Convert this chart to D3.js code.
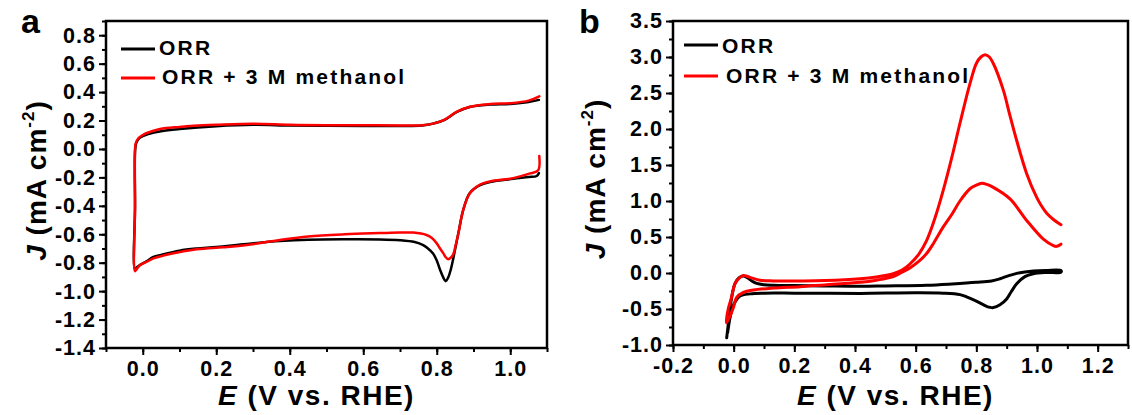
<!DOCTYPE html>
<html lang="en">
<head>
<meta charset="UTF-8">
<title>ORR CV with and without methanol</title>
<style>
  body { margin: 0; background: #fff; }
  svg { display: block; font-family: "Liberation Sans", Arial, sans-serif; }
  .tick text { font-weight: bold; font-size: 21.5px; letter-spacing: 1px; fill: #000; }
  .tick line { stroke: #000; stroke-width: 2px; }
</style>
</head>
<body>
<svg id="chart" width="1132" height="415"></svg>
<script src="https://d3js.org/d3.v7.min.js"></script>
<script>
// ---- panel a : CV, ORR vs ORR + 3 M methanol (E in V vs RHE, J in mA cm-2)
const aOrrE = [1.078, 1.072, 1.05, 1.008, 0.945, 0.918, 0.89, 0.872, 0.859, 0.852, 0.845, 0.838, 0.831, 0.824, 0.817, 0.809, 0.80, 0.79, 0.776, 0.763, 0.74, 0.70, 0.646, 0.55, 0.45, 0.373, 0.283, 0.2, 0.147, 0.1, 0.05, 0.029, 0.01, -0.007, -0.015, -0.021,
  -0.021, -0.021, -0.018, -0.01, 0.0, 0.015, 0.05, 0.1, 0.2, 0.3, 0.4, 0.5, 0.6, 0.7, 0.76, 0.79, 0.82, 0.855, 0.89, 0.945, 1.0, 1.05, 1.078];
const aOrrJ = [-0.17, -0.19, -0.198, -0.21, -0.232, -0.255, -0.31, -0.43, -0.59, -0.68, -0.77, -0.85, -0.905, -0.93, -0.90, -0.85, -0.785, -0.735, -0.70, -0.676, -0.655, -0.642, -0.636, -0.635, -0.638, -0.648, -0.668, -0.69, -0.70, -0.715, -0.745, -0.76, -0.79, -0.815, -0.83, -0.845,
  -0.40, -0.02, 0.04, 0.075, 0.09, 0.105, 0.125, 0.14, 0.16, 0.17, 0.165, 0.163, 0.162, 0.162, 0.165, 0.178, 0.202, 0.26, 0.295, 0.312, 0.317, 0.33, 0.345];

const aMethE = [1.079, 1.076, 1.054, 1.008, 0.945, 0.918, 0.89, 0.872, 0.859, 0.852, 0.845, 0.838, 0.831, 0.824, 0.818, 0.809, 0.80, 0.786, 0.772, 0.736, 0.70, 0.646, 0.55, 0.45, 0.373, 0.283, 0.219, 0.147, 0.074, 0.029, 0.01, -0.007, -0.015, -0.021,
  -0.021, -0.021, -0.019, -0.012, 0.0, 0.011, 0.047, 0.1, 0.14, 0.2, 0.3, 0.4, 0.5, 0.6, 0.7, 0.76, 0.79, 0.82, 0.855, 0.89, 0.945, 1.0, 1.05, 1.079];
const aMethJ = [-0.05, -0.15, -0.172, -0.205, -0.228, -0.25, -0.312, -0.429, -0.593, -0.67, -0.74, -0.765, -0.775, -0.76, -0.734, -0.70, -0.664, -0.625, -0.605, -0.588, -0.588, -0.592, -0.60, -0.615, -0.64, -0.676, -0.692, -0.706, -0.739, -0.77, -0.795, -0.816, -0.84, -0.86,
  -0.40, 0.0, 0.04, 0.075, 0.098, 0.112, 0.14, 0.155, 0.163, 0.17, 0.178, 0.17, 0.167, 0.167, 0.165, 0.167, 0.178, 0.204, 0.262, 0.297, 0.316, 0.322, 0.34, 0.37];

// ---- panel b
const bOrrE = [-0.023, -0.018, -0.012, -0.005, 0.005, 0.018, 0.032, 0.045, 0.06, 0.076, 0.1, 0.13, 0.2, 0.3, 0.417, 0.5, 0.636, 0.72, 0.8, 0.85, 0.878, 0.905, 0.933, 0.96, 0.988, 1.03, 1.079,
  1.079, 1.03, 0.988, 0.96, 0.933, 0.915, 0.90, 0.878, 0.856, 0.845, 0.834, 0.80, 0.77, 0.746, 0.691, 0.6, 0.417, 0.3, 0.2, 0.1, 0.054, 0.021, 0.005, -0.005, -0.012, -0.02];
const bOrrJ = [-0.90, -0.72, -0.50, -0.30, -0.14, -0.065, -0.04, -0.065, -0.11, -0.145, -0.163, -0.17, -0.175, -0.18, -0.185, -0.18, -0.17, -0.152, -0.13, -0.11, -0.08, -0.04, -0.005, 0.015, 0.028, 0.035, 0.035,
  0.012, 0.008, -0.01, -0.05, -0.15, -0.26, -0.36, -0.44, -0.48, -0.477, -0.462, -0.39, -0.335, -0.30, -0.28, -0.275, -0.283, -0.28, -0.28, -0.28, -0.29, -0.32, -0.40, -0.50, -0.62, -0.83];

// methanol in b: forward scan read from its right end back to the start, then the reverse scan up to its end
const bMethE = [1.079, 1.055, 1.032, 1.015, 0.999, 0.966, 0.933, 0.91, 0.889, 0.856, 0.843, 0.829, 0.815, 0.80, 0.779, 0.746, 0.72, 0.691, 0.665, 0.636, 0.61, 0.581, 0.555, 0.526, 0.47, 0.417, 0.3, 0.219, 0.13, 0.087, 0.054, 0.032, 0.021, 0.004, -0.007, -0.018, -0.024,
  -0.022, -0.012, -0.001, 0.01, 0.032, 0.065, 0.131, 0.219, 0.3, 0.417, 0.47, 0.526, 0.55, 0.581, 0.61, 0.636, 0.66, 0.691, 0.72, 0.746, 0.779, 0.80, 0.818, 0.835, 0.856, 0.911, 0.966, 1.021, 1.054, 1.065, 1.079];
const bMethJ = [0.67, 0.74, 0.83, 0.93, 1.05, 1.38, 1.84, 2.2, 2.54, 2.91, 3.0, 3.03, 3.0, 2.91, 2.63, 2.08, 1.62, 1.15, 0.78, 0.45, 0.26, 0.125, 0.04, -0.01, -0.055, -0.08, -0.105, -0.11, -0.11, -0.10, -0.06, -0.035, -0.06, -0.15, -0.34, -0.5, -0.69,
  -0.68, -0.6, -0.48, -0.34, -0.27, -0.237, -0.21, -0.19, -0.165, -0.13, -0.1, -0.05, 0.0, 0.07, 0.16, 0.27, 0.42, 0.64, 0.82, 1.0, 1.17, 1.22, 1.245, 1.23, 1.19, 1.03, 0.73, 0.47, 0.38, 0.37, 0.40];

// tick labels
const aXTicks = [0.0, 0.2, 0.4, 0.6, 0.8, 1.0];
const aYTicks = [-1.4, -1.2, -1.0, -0.8, -0.6, -0.4, -0.2, 0.0, 0.2, 0.4, 0.6, 0.8];
const bXTicks = [-0.2, 0.0, 0.2, 0.4, 0.6, 0.8, 1.0, 1.2];
const bYTicks = [-1.0, -0.5, 0.0, 0.5, 1.0, 1.5, 2.0, 2.5, 3.0, 3.5];

const legendNames = ['ORR', 'ORR + 3 M methanol'];
const colors = ['#000000', '#ff0000'];

const svg = d3.select('#chart');
svg.append('rect').attr('width', 1132).attr('height', 415).attr('fill', '#fff');

function toPts(E, J) { return E.map((e, i) => [e, J[i]]); }

const panels = [
  {
    label: 'a', labelX: 21,
    left: 106, right: 547, top: 21, bottom: 348,
    xDomain: [-0.1, 1.1], yDomain: [-1.4, 0.9],
    xTicks: aXTicks, yTicks: aYTicks, xMinorStep: 0.1, yMinorStep: 0.1,
    series: [toPts(aOrrE, aOrrJ), toPts(aMethE, aMethJ)],
    lineW: 2.5,
    legX: 121, legY: [49, 78], textX: [159, 162], textY: [55, 84],
    yTitleX: 46, xTitleShift: -10
  },
  {
    label: 'b', labelX: 579,
    left: 673, right: 1128, top: 21, bottom: 345,
    xDomain: [-0.2, 1.3], yDomain: [-1.0, 3.5],
    xTicks: bXTicks, yTicks: bYTicks, xMinorStep: 0.1, yMinorStep: 0.25,
    series: [toPts(bOrrE, bOrrJ), toPts(bMethE, bMethJ)],
    lineW: 3,
    legX: 684, legY: [45, 76], textX: [722, 726], textY: [53, 83],
    yTitleX: 605, xTitleShift: -5
  }
];

panels.forEach(p => {
  const x = d3.scaleLinear().domain(p.xDomain).range([p.left, p.right]);
  const y = d3.scaleLinear().domain(p.yDomain).range([p.bottom, p.top]);
  const g = svg.append('g');

  const xMinor = d3.range(p.xDomain[0], p.xDomain[1] + 1e-9, p.xMinorStep).map(v => +v.toFixed(3));
  const yMinor = d3.range(p.yDomain[0], p.yDomain[1] + 1e-9, p.yMinorStep).map(v => +v.toFixed(3));

  // minor ticks
  g.append('g').attr('transform', `translate(0,${p.bottom})`)
    .call(d3.axisBottom(x).tickValues(xMinor).tickSize(4).tickFormat(''))
    .call(a => a.select('.domain').remove());
  g.append('g').attr('transform', `translate(${p.left},0)`)
    .call(d3.axisLeft(y).tickValues(yMinor).tickSize(4).tickFormat(''))
    .call(a => a.select('.domain').remove());

  // major ticks + labels
  g.append('g').attr('transform', `translate(0,${p.bottom})`)
    .call(d3.axisBottom(x).tickValues(p.xTicks).tickSize(7).tickPadding(6).tickFormat(d => d.toFixed(1)))
    .call(a => a.select('.domain').remove());
  g.append('g').attr('transform', `translate(${p.left},0)`)
    .call(d3.axisLeft(y).tickValues(p.yTicks).tickSize(7).tickPadding(3).tickFormat(d => d.toFixed(1)))
    .call(a => a.select('.domain').remove());

  // curves
  const line = d3.line().x(d => x(d[0])).y(d => y(d[1])).curve(d3.curveCatmullRom.alpha(0.5));
  p.series.forEach((pts, i) => {
    g.append('path').datum(pts)
      .attr('d', line)
      .attr('fill', 'none')
      .attr('stroke', colors[i])
      .attr('stroke-width', p.lineW)
      .attr('stroke-linejoin', 'round')
      .attr('stroke-linecap', 'round');
  });

  // frame
  g.append('rect')
    .attr('x', p.left).attr('y', p.top)
    .attr('width', p.right - p.left).attr('height', p.bottom - p.top)
    .attr('fill', 'none').attr('stroke', '#000').attr('stroke-width', 2.5);

  // legend
  legendNames.forEach((name, i) => {
    g.append('line')
      .attr('x1', p.legX).attr('x2', p.legX + 34)
      .attr('y1', p.legY[i]).attr('y2', p.legY[i])
      .attr('stroke', colors[i]).attr('stroke-width', 3);
    g.append('text')
      .attr('x', p.textX[i]).attr('y', p.textY[i])
      .attr('font-size', 21).attr('font-weight', 'bold')
      .style('letter-spacing', '2.2px')
      .text(name);
  });

  // x title
  const xt = g.append('text')
    .attr('x', (p.left + p.right) / 2 + p.xTitleShift).attr('y', 405)
    .attr('text-anchor', 'middle')
    .attr('font-size', 28).attr('font-weight', 'bold')
    .style('letter-spacing', '1.5px');
  xt.append('tspan').attr('font-style', 'italic').text('E');
  xt.append('tspan').text(' (V vs. RHE)');

  // y title
  const yt = g.append('text')
    .attr('transform', `translate(${p.yTitleX},${(p.top + p.bottom) / 2 - 4}) rotate(-90)`)
    .attr('text-anchor', 'middle')
    .attr('font-size', 28).attr('font-weight', 'bold')
    .style('letter-spacing', '1px');
  yt.append('tspan').attr('font-style', 'italic').text('J');
  yt.append('tspan').text(' (mA cm');
  yt.append('tspan').attr('font-size', 17).attr('dy', -12).text('-2');
  yt.append('tspan').attr('dy', 12).text(')');

  // panel letter
  svg.append('text')
    .attr('x', p.labelX).attr('y', 33)
    .attr('font-size', 34).attr('font-weight', 'bold')
    .text(p.label);
});
</script>
</body>
</html>
